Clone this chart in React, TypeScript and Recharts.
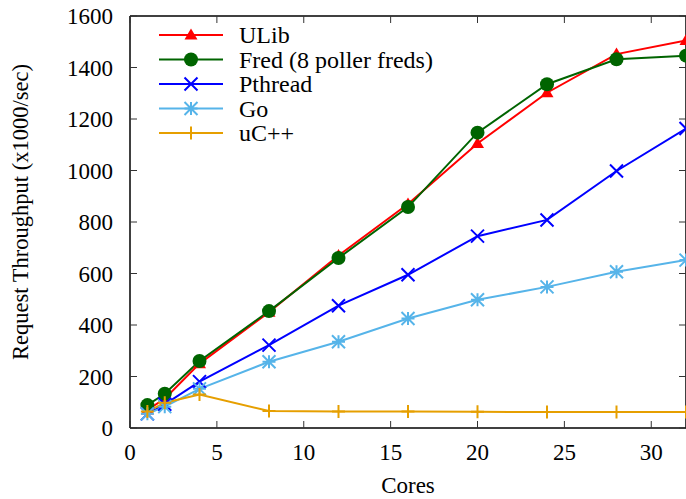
import * as React from 'react';
import { LineChart, Line, XAxis, YAxis, ReferenceLine } from 'recharts';

const cores = [1, 2, 4, 8, 12, 16, 20, 24, 28, 32];
const ulib = [70, 114, 250, 450, 670, 870, 1105, 1302, 1452, 1505];
const fred = [89, 133, 260, 454, 660, 858, 1147, 1335, 1432, 1446];
const pthread = [55, 92, 180, 322, 475, 595, 745, 808, 998, 1163];
const goLang = [55, 83, 152, 257, 335, 425, 498, 548, 607, 652];
const ucpp = [64, 98, 130, 66, 64, 64, 63, 62, 62, 62];

const xTicks = [0, 5, 10, 15, 20, 25, 30];
const yTicks = [0, 200, 400, 600, 800, 1000, 1200, 1400, 1600];

const W = 686;
const H = 499;
const TOP = 16;
const BOTTOM = 428;
const LEFT = 130;
const RIGHT = 686;
const FONT = '"Liberation Serif", "Times New Roman", serif';
const FS = 23;

type Shape = 'triangle' | 'circle' | 'cross' | 'star' | 'plus';

const SERIES: { key: string; name: string; color: string; shape: Shape; values: number[] }[] = [
  { key: 'ulib', name: 'ULib', color: '#ff0000', shape: 'triangle', values: ulib },
  { key: 'fred', name: 'Fred (8 poller freds)', color: '#006400', shape: 'circle', values: fred },
  { key: 'pthread', name: 'Pthread', color: '#0000ff', shape: 'cross', values: pthread },
  { key: 'go', name: 'Go', color: '#56b4e9', shape: 'star', values: goLang },
  { key: 'ucpp', name: 'uC++', color: '#e69f00', shape: 'plus', values: ucpp },
];

const data = cores.map((c, i) => {
  const row: Record<string, number> = { cores: c };
  SERIES.forEach(s => {
    row[s.key] = s.values[i];
  });
  return row;
});

const marker = (shape: Shape, cx: number, cy: number, color: string, key?: React.Key) => {
  const s = 6.5;
  switch (shape) {
    case 'triangle':
      return (
        <path key={key} d={`M${cx},${cy - 6.5}L${cx + 6.5},${cy + 4.5}L${cx - 6.5},${cy + 4.5}Z`} fill={color} />
      );
    case 'circle':
      return <circle key={key} cx={cx} cy={cy} r={7} fill={color} />;
    case 'cross':
      return (
        <path key={key} d={`M${cx - s},${cy - s}L${cx + s},${cy + s}M${cx - s},${cy + s}L${cx + s},${cy - s}`} stroke={color} strokeWidth={2} fill="none" />
      );
    case 'star':
      return (
        <path
          key={key}
          d={`M${cx - s},${cy - s}L${cx + s},${cy + s}M${cx - s},${cy + s}L${cx + s},${cy - s}M${cx},${cy - s}L${cx},${cy + s}M${cx - s},${cy}L${cx + s},${cy}`}
          stroke={color}
          strokeWidth={2}
          fill="none"
        />
      );
    default:
      return (
        <path key={key} d={`M${cx},${cy - s}L${cx},${cy + s}M${cx - s},${cy}L${cx + s},${cy}`} stroke={color} strokeWidth={2} fill="none" />
      );
  }
};

const XTick = (props: any) => {
  const { x, payload } = props;
  return (
    <g>
      <line x1={x} x2={x} y1={BOTTOM} y2={BOTTOM - 7} stroke="#333" strokeWidth={1} />
      <line x1={x} x2={x} y1={TOP} y2={TOP + 7} stroke="#333" strokeWidth={1} />
      <text x={x} y={BOTTOM + 32} textAnchor="middle" fontFamily={FONT} fontSize={FS} fill="#000">
        {payload.value}
      </text>
    </g>
  );
};

const YTick = (props: any) => {
  const { y, payload } = props;
  return (
    <g>
      <line x1={LEFT} x2={LEFT + 7} y1={y} y2={y} stroke="#333" strokeWidth={1} />
      <line x1={RIGHT} x2={RIGHT - 7} y1={y} y2={y} stroke="#333" strokeWidth={1} />
      <text x={LEFT - 17} y={y + 8} textAnchor="end" fontFamily={FONT} fontSize={FS} fill="#000">
        {payload.value}
      </text>
    </g>
  );
};

// axis titles ignore the viewBox props recharts passes in
const XTitle = () => (
  <text x={(LEFT + RIGHT) / 2} y={493} textAnchor="middle" fontFamily={FONT} fontSize={FS} fill="#000">
    Cores
  </text>
);

const YTitle = () => (
  <text
    x={20}
    y={212}
    transform="rotate(-90 20 212)"
    textAnchor="middle"
    dominantBaseline="central"
    fontFamily={FONT}
    fontSize={22.5}
    fill="#000"
  >
    Request Throughput (x1000/sec)
  </text>
);

const LegendBox = () => (
  <svg width={340} height={140} style={{ position: 'absolute', left: 150, top: 20, pointerEvents: 'none' }}>
    {SERIES.map((s, i) => {
      const y = 15 + i * 24.5;
      return (
        <g key={s.key}>
          <line x1={9} x2={73} y1={y} y2={y} stroke={s.color} strokeWidth={2} />
          {marker(s.shape, 41, y, s.color)}
          <text x={89} y={y + 8} fontFamily={FONT} fontSize={24} fill="#000">
            {s.name}
          </text>
        </g>
      );
    })}
  </svg>
);

export default function App() {
  return (
    <div style={{ position: 'absolute', left: 0, top: 0, width: W, height: H, background: '#fff' }}>
      <LineChart width={W} height={H} data={data} margin={{ top: TOP, right: 0, bottom: 0, left: 0 }}>
        <XAxis
          dataKey="cores"
          type="number"
          domain={[0, 32]}
          ticks={xTicks}
          height={71}
          tickLine={false}
          tickSize={0}
          tick={<XTick />}
          axisLine={{ stroke: '#000', strokeWidth: 1.5 }}
          label={<XTitle />}
        />
        <YAxis
          type="number"
          domain={[0, 1600]}
          ticks={yTicks}
          width={130}
          tickLine={false}
          tickSize={0}
          tick={<YTick />}
          axisLine={{ stroke: '#000', strokeWidth: 1.5 }}
          label={<YTitle />}
        />
        <ReferenceLine y={1600} stroke="#000" strokeWidth={1.5} />
        <ReferenceLine x={32} stroke="#000" strokeWidth={1.5} />
        {SERIES.map(s => (
          <Line
            key={s.key}
            dataKey={s.key}
            name={s.name}
            stroke={s.color}
            strokeWidth={2}
            isAnimationActive={false}
            dot={(p: any) => marker(s.shape, p.cx, p.cy, s.color, `${s.key}-${p.index}`)}
            activeDot={false}
          />
        ))}
      </LineChart>
      <LegendBox />
    </div>
  );
}
